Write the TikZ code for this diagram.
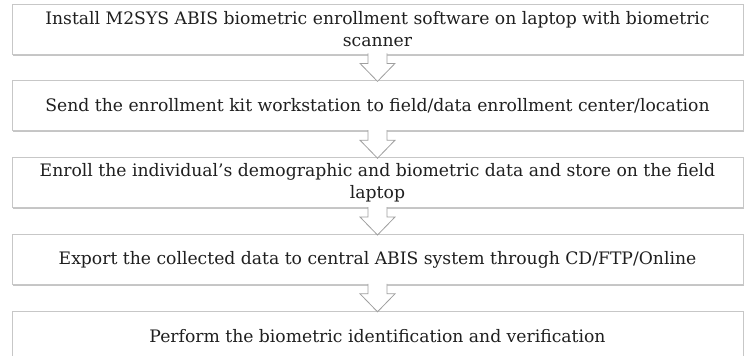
\documentclass[tikz,border=0pt]{standalone}
\usepackage{fontspec}
\setmainfont{DejaVu Serif}
\usetikzlibrary{calc,positioning,shadows}
\definecolor{boxline}{gray}{0.78}
\definecolor{txt}{gray}{0.12}
\def\hollowarrow(#1)(#2){\draw[arrowline] ($(#1.south)+(-9.5,1)$) -- ($(#1.south)+(-9.5,-9)$) -- ($(#1.south)+(-17.5,-9)$) -- ($(#2.north)+(0,-1)$) -- ($(#1.south)+(17.5,-9)$) -- ($(#1.south)+(9.5,-9)$) -- ($(#1.south)+(9.5,1)$);}

\begin{document}
\begin{tikzpicture}[x=1pt, y=1pt,
	stepbox/.style={draw=boxline, line width=0.8pt, fill=white, minimum width=731pt, minimum height=50pt, inner sep=0pt, align=center, text=txt, font=\fontsize{17.2}{22}\selectfont, drop shadow={shadow xshift=1.2pt, shadow yshift=-1.5pt, fill=black!45, opacity=0.5}},
	arrowline/.style={draw=boxline!80!black, line width=0.8pt, fill=white, line join=miter}]
			%%%%% START %%%%%
			
			\useasboundingbox (0, 0) rectangle (745, -356);
			\clip (0, 0) rectangle (745, -356);
			
			\node[stepbox] (install) at (377.5, -29) {Install M2SYS ABIS biometric enrollment software on laptop with biometric\\scanner};
			\node[stepbox, below=26pt of install] (send) {Send the enrollment kit workstation to field/data enrollment center/location};
			\node[stepbox, below=26pt of send] (enroll) {Enroll the individual's demographic and biometric data and store on the field\\laptop};
			\node[stepbox, below=26pt of enroll] (export) {Export the collected data to central ABIS system through CD/FTP/Online};
			\node[stepbox, below=26pt of export] (verify) {Perform the biometric identification and verification};
			
			\hollowarrow(install)(send)
			\hollowarrow(send)(enroll)
			\hollowarrow(enroll)(export)
			\hollowarrow(export)(verify)
			
			%%%%% END %%%%%
		\end{tikzpicture}
\end{document}
